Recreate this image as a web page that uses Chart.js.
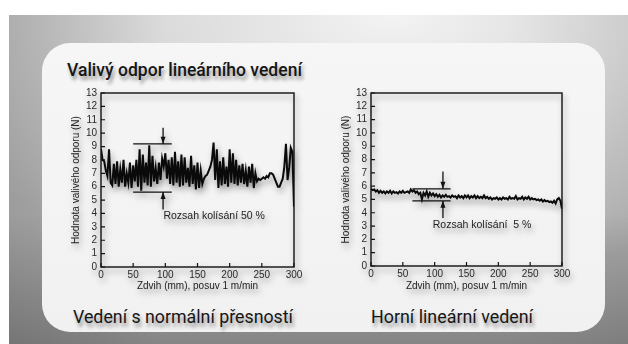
<!DOCTYPE html>
<html lang="cs">
<head>
<meta charset="utf-8">
<script src="https://cdn.jsdelivr.net/npm/chart.js@4.4.1/dist/chart.umd.min.js"></script>
<style>
  html, body { margin: 0; padding: 0; }
  body { width: 628px; height: 344px; position: relative; overflow: hidden; background: #ffffff; }
  #backdrop {
    position: absolute; left: 9px; top: 15px; width: 619px; height: 329px;
    background:
      linear-gradient(to bottom, rgba(0,0,0,0) 0%, rgba(0,0,0,0) 60%, rgba(0,0,0,0.25) 100%),
      linear-gradient(to right, rgba(0,0,0,0.12) 0%, rgba(0,0,0,0) 25%, rgba(0,0,0,0) 80%, rgba(0,0,0,0.06) 100%),
      radial-gradient(ellipse 85% 80% at 62% 0%, #f3f3f3 0%, #dadada 45%, #b2b2b2 100%);
  }
  #panel {
    position: absolute; left: 42px; top: 43px; width: 563px; height: 289px;
    border-radius: 28px;
    background: linear-gradient(to bottom, #f6f6f6 0%, #f1f1f1 100%);
  }
  .heading {
    position: absolute; white-space: nowrap; color: #161616;
    font-family: Roboto, "Noto Sans", sans-serif;
    text-shadow: 2px 4px 4px rgba(0,0,0,0.40);
    transform-origin: 0 0;
  }
  #mainTitle { left: 67px; top: 58px; font-size: 19px; font-weight: 500; }
  #leftTitle { left: 73px; top: 305px; font-size: 19px; font-weight: 400; }
  #rightTitle { left: 371px; top: 305px; font-size: 19px; font-weight: 400; }
  canvas.plot {
    position: absolute;
    filter: drop-shadow(2px 4px 3px rgba(0,0,0,0.38));
  }
  #chartNormal { left: 68px; top: 82px; }
  #chartPrecise { left: 338px; top: 82px; }
</style>
</head>
<body>
<div id="backdrop"></div>
<div id="panel"></div>
<div class="heading" id="mainTitle" data-width="235">Valivý odpor lineárního vedení</div>
<div class="heading" id="leftTitle" data-width="220">Vedení s normální přesností</div>
<div class="heading" id="rightTitle" data-width="162">Horní lineární vedení</div>
<canvas class="plot" id="chartNormal" width="244" height="213"></canvas>
<canvas class="plot" id="chartPrecise" width="244" height="213"></canvas>
<script>
// Stroke positions are sampled every 2.5 mm from 0 to 300 mm.
const strokeStepMm = 2.5;

// Rolling resistance (N), guide of normal accuracy.
const forceNormal = [
  8.8, 8.0, 7.9, 7.2, 6.8, 8.8, 6.3, 6.1, 7.7, 6.2,
  7.9, 6.0, 7.3, 6.3, 8.0, 6.0, 7.0, 6.3, 7.8, 5.9,
  7.6, 6.4, 8.0, 6.0, 8.8, 5.7, 8.4, 6.3, 7.8, 6.1,
  9.1, 6.0, 8.3, 6.4, 7.4, 6.2, 7.8, 6.5, 8.1, 7.5,
  8.5, 6.6, 8.0, 6.2, 8.2, 6.1, 8.6, 6.3, 7.9, 6.0,
  8.4, 6.1, 8.2, 6.3, 7.4, 6.0, 8.3, 6.2, 7.6, 5.8,
  7.8, 5.9, 7.2, 6.2, 6.6, 6.8, 6.9, 7.2, 7.5, 8.0,
  9.3, 6.5, 8.8, 5.9, 7.9, 6.1, 8.2, 6.2, 7.5, 6.0,
  8.8, 6.3, 8.5, 6.2, 8.0, 6.1, 7.6, 6.3, 7.7, 6.2,
  7.2, 6.0, 7.5, 6.3, 7.7, 5.9, 7.0, 6.4, 6.6, 6.5,
  6.6, 6.7, 6.6, 6.8, 6.7, 7.0, 7.0, 6.9, 6.6, 6.3,
  6.0, 6.0, 6.3, 6.6, 7.5, 9.2, 6.5, 7.4, 8.9, 8.6,
  4.5
];

// Rolling resistance (N), high accuracy guide.
const forcePrecise = [
  5.8, 5.7, 5.75, 5.6, 5.7, 5.5, 5.65, 5.5, 5.6, 5.45,
  5.6, 5.5, 5.65, 5.45, 5.6, 5.5, 5.55, 5.45, 5.6, 5.5,
  5.65, 5.5, 5.55, 5.6, 5.5, 5.75, 5.6, 5.7, 5.5, 5.6,
  5.4, 5.5, 5.0, 5.5, 5.3, 5.6, 5.2, 5.5, 5.3, 5.45,
  5.25, 5.4, 5.2, 5.35, 5.15, 5.3, 5.2, 5.35, 5.2, 5.25,
  5.15, 5.3, 5.2, 5.25, 5.1, 5.3, 5.15, 5.25, 5.1, 5.3,
  5.15, 5.3, 5.1, 5.25, 5.15, 5.3, 5.1, 5.25, 5.1, 5.2,
  5.1, 5.3, 5.1, 5.2, 5.05, 5.15, 5.0, 5.1, 5.05, 5.15,
  5.0, 5.1, 5.0, 5.15, 5.05, 5.1, 5.0, 5.2, 5.05, 5.1,
  5.05, 5.25, 5.0, 5.1, 5.05, 5.2, 5.0, 5.15, 5.05, 5.2,
  5.0, 5.1, 5.0, 5.05, 4.95, 5.0, 4.9, 5.0, 4.85, 4.95,
  4.85, 4.9, 4.8, 4.85, 4.75, 4.9, 4.7, 5.0, 5.1, 4.9,
  4.3
];

// Fluctuation band: [low N, high N], stroke span [from mm, to mm], arrow at mm, arrow tips [bottom N, top N].
const bandNormal = [5.6, 9.2];
const bandNormalSpan = [50, 110];
const arrowNormal = [96.5, 4.3, 10.4];
const noteNormal = "Rozsah kolísání 50 %";
const notePosNormal = [97, 3.8];

const bandPrecise = [4.9, 5.8];
const bandPreciseSpan = [65, 125];
const arrowPrecise = [113, 3.6, 7.1];
const notePrecise = "Rozsah kolísání  5 %";
const notePosPrecise = [97, 3.1];

const yTicks = [0, 1, 2, 3, 4, 5, 6, 7, 8, 9, 10, 11, 12, 13];
const xTicks = [0, 50, 100, 150, 200, 250, 300];
const xTitle = "Zdvih (mm), posuv 1 m/min";
const yTitle = "Hodnota valivého odporu (N)";

const axisFont = { family: '"Liberation Sans", Arial, sans-serif', size: 10 };

// Squeeze the headings to the condensed look of the layout.
document.querySelectorAll('.heading').forEach(el => {
  const target = parseFloat(el.dataset.width);
  const w = el.getBoundingClientRect().width;
  el.style.transform = 'scaleX(' + (target / w) + ')';
});

function toPoints(values) {
  return values.map((v, i) => ({ x: i * strokeStepMm, y: v }));
}

// Frame, inward tick marks, fluctuation band with arrows and its note.
const framePlugin = {
  id: 'frameAndBand',
  afterDatasetsDraw(chart) {
    const o = chart.options.plugins.frameAndBand;
    const { ctx, chartArea: a, scales: { x, y } } = chart;
    ctx.save();
    ctx.strokeStyle = '#111';
    ctx.lineWidth = 1.4;
    ctx.strokeRect(a.left, a.top, a.right - a.left, a.bottom - a.top);
    ctx.lineWidth = 1.2;
    ctx.beginPath();
    yTicks.forEach(t => {
      const py = y.getPixelForValue(t);
      ctx.moveTo(a.left, py); ctx.lineTo(a.left + 4, py);
    });
    xTicks.forEach(t => {
      const px = x.getPixelForValue(t);
      ctx.moveTo(px, a.bottom); ctx.lineTo(px, a.bottom - 4);
    });
    ctx.stroke();

    // band lines
    ctx.lineWidth = 1.3;
    ctx.beginPath();
    o.band.forEach(v => {
      const py = y.getPixelForValue(v);
      ctx.moveTo(x.getPixelForValue(o.span[0]), py);
      ctx.lineTo(x.getPixelForValue(o.span[1]), py);
    });
    // arrow shafts
    const ax = x.getPixelForValue(o.arrow[0]);
    const yLow = y.getPixelForValue(o.band[0]);
    const yHigh = y.getPixelForValue(o.band[1]);
    ctx.moveTo(ax, y.getPixelForValue(o.arrow[2])); ctx.lineTo(ax, yHigh);
    ctx.moveTo(ax, y.getPixelForValue(o.arrow[1])); ctx.lineTo(ax, yLow);
    ctx.stroke();
    // arrow heads
    ctx.fillStyle = '#111';
    ctx.beginPath();
    ctx.moveTo(ax, yHigh); ctx.lineTo(ax - 2.5, yHigh - 7); ctx.lineTo(ax + 2.5, yHigh - 7); ctx.closePath();
    ctx.moveTo(ax, yLow); ctx.lineTo(ax - 2.5, yLow + 7); ctx.lineTo(ax + 2.5, yLow + 7); ctx.closePath();
    ctx.fill();

    ctx.font = '10.5px "Liberation Sans", Arial, sans-serif';
    ctx.fillStyle = '#222';
    ctx.textBaseline = 'middle';
    ctx.textAlign = 'left';
    ctx.fillText(o.note, x.getPixelForValue(o.notePos[0]), y.getPixelForValue(o.notePos[1]));
    ctx.restore();
  }
};

function makeChart(id, values, band, span, arrow, note, notePos, rightPad, xHeight) {
  return new Chart(document.getElementById(id), {
    type: 'line',
    data: {
      datasets: [{
        data: toPoints(values),
        borderColor: '#0a0a0a',
        borderWidth: 2,
        pointRadius: 0,
        tension: 0,
        fill: false
      }]
    },
    options: {
      responsive: false,
      animation: false,
      layout: { padding: { top: 11, right: rightPad, left: 0, bottom: 0 } },
      plugins: {
        legend: { display: false },
        tooltip: { enabled: false },
        frameAndBand: { band, span, arrow, note, notePos }
      },
      scales: {
        x: {
          type: 'linear', min: 0, max: 300,
          afterBuildTicks: s => { s.ticks = xTicks.map(v => ({ value: v })); },
          afterFit: s => { s.height = xHeight; },
          grid: { display: false, drawTicks: false, tickLength: 0 },
          border: { display: false },
          ticks: { font: axisFont, color: '#2a2a2a', padding: 2, maxRotation: 0, autoSkip: false },
          title: { display: true, text: xTitle, font: axisFont, color: '#222', padding: { top: 0, bottom: 3 } }
        },
        y: {
          type: 'linear', min: 0, max: 13,
          afterBuildTicks: s => { s.ticks = yTicks.map(v => ({ value: v })); },
          afterFit: s => { s.width = 33; },
          grid: { display: false, drawTicks: false, tickLength: 0 },
          border: { display: false },
          ticks: { font: axisFont, color: '#2a2a2a', padding: 4, autoSkip: false },
          title: { display: true, text: yTitle, font: axisFont, color: '#222', padding: { top: 2, bottom: 0 } }
        }
      }
    },
    plugins: [framePlugin]
  });
}

makeChart('chartNormal', forceNormal, bandNormal, bandNormalSpan, arrowNormal, noteNormal, notePosNormal, 18, 28);
makeChart('chartPrecise', forcePrecise, bandPrecise, bandPreciseSpan, arrowPrecise, notePrecise, notePosPrecise, 20, 29);
</script>
</body>
</html>
